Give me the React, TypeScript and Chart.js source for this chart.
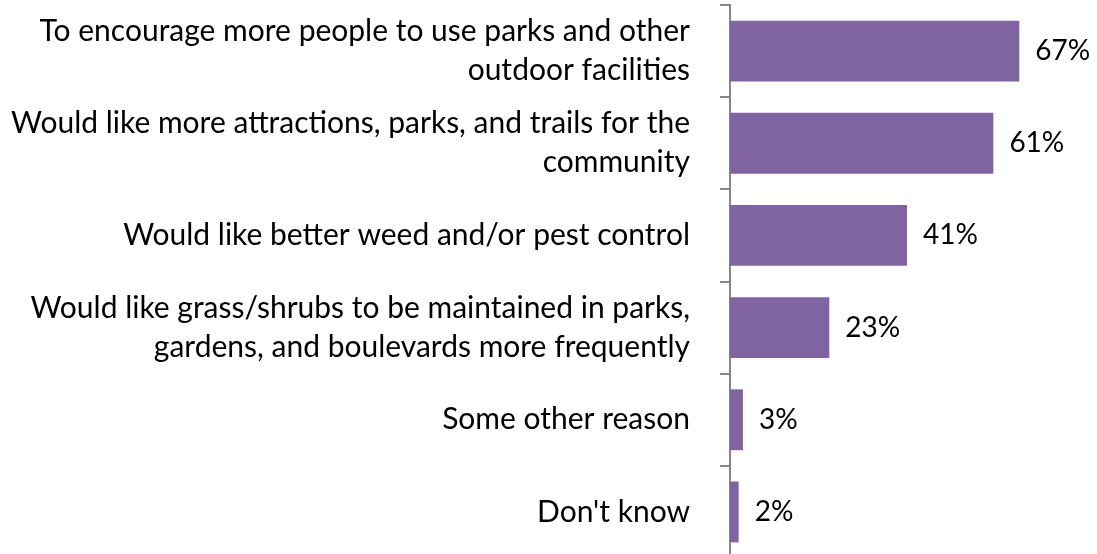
import React, { useEffect, useRef } from "react";
import { Chart, registerables } from "chart.js";

Chart.register(...registerables);

const categories: string[][] = [
  ["To encourage more people to use parks and other", "outdoor facilities"],
  ["Would like more attractions, parks, and trails for the", "community"],
  ["Would like better weed and/or pest control"],
  ["Would like grass/shrubs to be maintained in parks,", "gardens, and boulevards more frequently"],
  ["Some other reason"],
  ["Don't know"],
];
const values: number[] = [67, 61, 41, 23, 3, 2];
const valueLabels: string[] = ["67%", "61%", "41%", "23%", "3%", "2%"];

const FONT_FAMILY = "Lato, 'Open Sans', sans-serif";
const LABEL_SIZE = 30;
const VALUE_SIZE = 28;

const dataLabelPlugin = {
  id: "dataLabels",
  afterDatasetsDraw(chart: any) {
    const ctx = chart.ctx;
    const meta = chart.getDatasetMeta(0);
    ctx.save();
    ctx.font = `${VALUE_SIZE}px ${FONT_FAMILY}`;
    ctx.fillStyle = "#000000";
    ctx.textAlign = "left";
    ctx.textBaseline = "middle";
    meta.data.forEach((el: any, i: number) => {
      ctx.fillText(valueLabels[i], el.x + 16, el.y);
    });
    ctx.restore();
  },
};

export default function App() {
  const ref = useRef<HTMLCanvasElement | null>(null);
  useEffect(() => {
    if (!ref.current) return;
    const chart = new Chart(ref.current, {
      type: "bar",
      data: {
        labels: categories,
        datasets: [
          {
            data: values,
            backgroundColor: "#8064A2",
            borderWidth: 0,
            barPercentage: 0.66,
            categoryPercentage: 1,
          },
        ],
      },
      options: {
        indexAxis: "y",
        responsive: false,
        animation: false,
        devicePixelRatio: 1,
        layout: { padding: { top: 5, bottom: 4, left: 0, right: 0 } },
        plugins: {
          legend: { display: false },
          tooltip: { enabled: false },
        },
        scales: {
          x: {
            display: false,
            min: 0,
            max: 85,
          },
          y: {
            afterFit: (scale: any) => {
              scale.width = 730;
              scale.paddingTop = 0;
              scale.paddingBottom = 0;
            },
            border: { display: true, color: "#868686", width: 2 },
            grid: {
              display: true,
              drawOnChartArea: false,
              drawTicks: true,
              tickLength: 10,
              color: "#868686",
              lineWidth: 2,
              offset: true,
            },
            ticks: {
              padding: 30,
              color: "#000000",
              font: { family: FONT_FAMILY, size: LABEL_SIZE, lineHeight: 1.3 },
              autoSkip: false,
            },
          },
        },
      },
      plugins: [dataLabelPlugin],
    });
    return () => chart.destroy();
  }, []);
  return (
    <div
      style={{
        position: "fixed",
        top: 0,
        left: 0,
        width: 1097,
        height: 554,
        overflow: "hidden",
        background: "#ffffff",
      }}
    >
      <canvas ref={ref} width={1097} height={562} style={{ display: "block" }} />
    </div>
  );
}
